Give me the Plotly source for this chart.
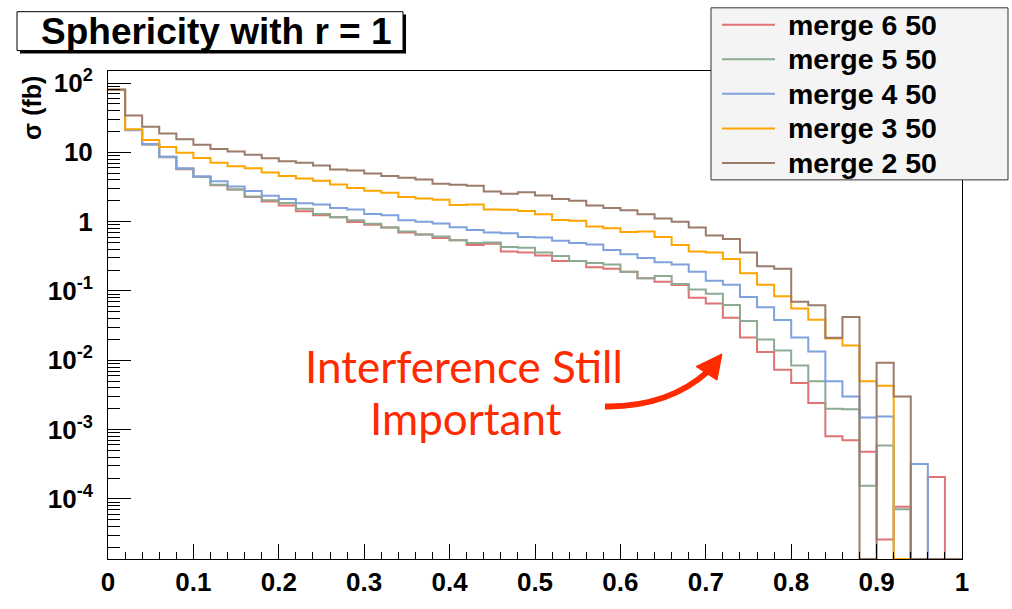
import plotly.graph_objects as go
import math

# ---------------- data ----------------
n_bins = 50
bin_width = 0.02

series_names = ["merge 6 50", "merge 5 50", "merge 4 50", "merge 3 50", "merge 2 50"]
series_colors = ["#e07474", "#8daa93", "#7fa2de", "#ffa500", "#9c7b6b"]

merge6 = [80, 21, 13, 8.5, 5.7, 4.4, 3.35, 2.9, 2.27, 1.95,
          1.71, 1.41, 1.24, 1.16, 0.99, 0.90, 0.82, 0.70, 0.65, 0.58,
          0.54, 0.46, 0.48, 0.37, 0.36, 0.325, 0.27, 0.27, 0.22, 0.21,
          0.19, 0.153, 0.136, 0.122, 0.080, 0.066, 0.041, 0.0214, 0.0132, 0.0073,
          0.0047, 0.00243, 8.0e-4, 7.0e-4, 4.8e-4, 2.6e-5, 7.7e-5, 0, 2.08e-4, 0]
merge5 = [80, 21, 13, 8.6, 5.8, 4.4, 3.4, 2.92, 2.31, 2.03,
          1.86, 1.53, 1.29, 1.16, 1.05, 0.935, 0.82, 0.72, 0.65, 0.61,
          0.54, 0.49, 0.50, 0.43, 0.42, 0.36, 0.32, 0.27, 0.254, 0.24,
          0.19, 0.153, 0.165, 0.126, 0.105, 0.091, 0.063, 0.037, 0.020, 0.0139,
          0.0084, 0.0050, 0.0020, 0.00196, 1.55e-4, 5.9e-4, 7.1e-5, 0, 0, 0]
merge4 = [80, 20.9, 13.2, 8.6, 5.9, 4.5, 3.83, 3.22, 2.77, 2.36,
          2.12, 1.84, 1.77, 1.57, 1.50, 1.29, 1.24, 1.05, 1.0, 0.944,
          0.83, 0.76, 0.70, 0.68, 0.60, 0.59, 0.53, 0.49, 0.47, 0.39,
          0.34, 0.30, 0.26, 0.24, 0.19, 0.14, 0.123, 0.082, 0.058, 0.038,
          0.0214, 0.0134, 0.0050, 0.0030, 0.0015, 0.00155, 0, 3.2e-4, 0, 0]
merge3 = [80, 21.6, 15.0, 11.9, 9.9, 8.3, 7.1, 6.3, 5.9, 5.1,
          4.55, 4.2, 3.88, 3.44, 3.05, 2.80, 2.62, 2.26, 2.16, 2.07,
          1.74, 1.77, 1.50, 1.48, 1.42, 1.28, 1.06, 1.03, 0.85, 0.80,
          0.71, 0.72, 0.60, 0.46, 0.37, 0.36, 0.29, 0.18, 0.123, 0.084,
          0.056, 0.0385, 0.0207, 0.0163, 0.0050, 0.0043, 0, 0, 0, 0]
merge2 = [80, 34, 23.4, 18.7, 15.4, 12.9, 11.2, 10.3, 9.2, 8.2,
          7.45, 7.1, 6.43, 5.65, 5.47, 4.97, 4.55, 4.31, 4.04, 3.52,
          3.40, 3.30, 2.73, 2.52, 2.65, 2.38, 2.12, 2.01, 1.71, 1.58,
          1.46, 1.28, 1.11, 1.0, 0.82, 0.63, 0.56, 0.36, 0.228, 0.21,
          0.070, 0.062, 0.0211, 0.042, 0, 0.0092, 0.0030, 0, 0, 0]
series_values = [merge6, merge5, merge4, merge3, merge2]

y_tick_vals = [1e-4, 1e-3, 1e-2, 1e-1, 1, 10, 100]
y_tick_text = ["10<sup>-4</sup>", "10<sup>-3</sup>", "10<sup>-2</sup>", "10<sup>-1</sup>", "1", "10", "10<sup>2</sup>"]
x_tick_vals = [0, 0.1, 0.2, 0.3, 0.4, 0.5, 0.6, 0.7, 0.8, 0.9, 1]
x_tick_text = ["0", "0.1", "0.2", "0.3", "0.4", "0.5", "0.6", "0.7", "0.8", "0.9", "1"]

title_text = "Sphericity with r = 1"
y_title = "σ (fb)"
note_lines = ["Interference Still", "Important"]

# ---------------- layout geometry ----------------
W, H = 1012, 609
L, R, T, B = 108, 962, 71, 573
y_lo, y_hi = math.log10(1.36e-5), math.log10(149)
floor_val = 10 ** y_lo

def pxx(x):
    return (x - L) / (R - L)

def pxy(y):
    return (B - y) / (B - T)

edges = [round(i * bin_width, 4) for i in range(n_bins + 1)]

fig = go.Figure()
for name, col, vals in zip(series_names, series_colors, series_values):
    yy = [v if v > 0 else floor_val for v in vals]
    fig.add_trace(go.Scatter(
        x=edges, y=yy + [yy[-1]], mode="lines", name=name,
        line=dict(color=col, width=2, shape="hv"), showlegend=False,
        hoverinfo="skip"))

minor_y = [k * 10 ** n for n in range(-5, 3) for k in range(2, 10)
           if y_lo <= math.log10(k * 10 ** n) <= y_hi]

axfont = dict(family="Liberation Sans", size=26, color="black", weight="bold")
fig.update_layout(
    width=W, height=H,
    margin=dict(l=L, r=W - R, t=T, b=H - B, pad=0),
    paper_bgcolor="white", plot_bgcolor="white",
    xaxis=dict(range=[0, 1], tickmode="array", tickvals=x_tick_vals, ticktext=x_tick_text,
               ticks="inside", ticklen=15, tickwidth=1, tickcolor="black",
               showline=True, linecolor="black", linewidth=1, mirror=True,
               showgrid=False, zeroline=False, tickfont=axfont,
               minor=dict(tickmode="linear", tick0=0, dtick=0.02, ticks="inside",
                          ticklen=7, tickwidth=1, tickcolor="black", showgrid=False)),
    yaxis=dict(type="log", range=[y_lo, y_hi], tickmode="array", tickvals=y_tick_vals,
               ticktext=y_tick_text, ticks="inside", ticklen=23, tickwidth=1,
               tickcolor="black", showline=True, linecolor="black", linewidth=1,
               mirror=True, showgrid=False, zeroline=False, tickfont=axfont,
               ticklabelstandoff=9,
               minor=dict(tickmode="array", tickvals=minor_y, ticks="inside",
                          ticklen=12, tickwidth=1, tickcolor="black", showgrid=False)),
)

shapes = []
annotations = []

# title box with shadow
shapes.append(dict(type="rect", xref="paper", yref="paper",
                   x0=pxx(20), x1=pxx(406), y0=pxy(53), y1=pxy(13),
                   fillcolor="black", line=dict(width=0), layer="above"))
shapes.append(dict(type="rect", xref="paper", yref="paper",
                   x0=pxx(17), x1=pxx(403), y0=pxy(50), y1=pxy(10),
                   fillcolor="white", line=dict(color="black", width=1), layer="above"))
annotations.append(dict(text=title_text, xref="paper", yref="paper", x=pxx(216), y=pxy(30),
                        xanchor="center", yanchor="middle", showarrow=False,
                        font=dict(family="Liberation Sans", size=37, color="black", weight="bold")))

# y title
annotations.append(dict(text=y_title, xref="paper", yref="paper", x=pxx(32), y=pxy(74),
                        xanchor="center", yanchor="top", textangle=-90, showarrow=False,
                        font=dict(family="Liberation Sans", size=25, color="black", weight="bold")))

# legend box
shapes.append(dict(type="rect", xref="paper", yref="paper",
                   x0=pxx(711), x1=pxx(1008), y0=pxy(183), y1=pxy(6),
                   fillcolor="#f4f4f4", line=dict(color="#333333", width=1), layer="above"))
for i, (name, col) in enumerate(zip(series_names, series_colors)):
    yc = 23.3 + 35.6 * i
    shapes.append(dict(type="line", xref="paper", yref="paper",
                       x0=pxx(722), x1=pxx(775), y0=pxy(yc), y1=pxy(yc),
                       line=dict(color=col, width=2), layer="above"))
    annotations.append(dict(text=name, xref="paper", yref="paper", x=pxx(786), y=pxy(yc),
                            xanchor="left", yanchor="middle", showarrow=False,
                            font=dict(family="Liberation Sans", size=28.5, color="black", weight="bold")))

# red note
red = "#ff2a00"
annotations.append(dict(text=note_lines[0], xref="paper", yref="paper", x=pxx(464), y=pxy(374),
                        xanchor="center", yanchor="middle", showarrow=False,
                        font=dict(family="Lato", size=44, color=red)))
annotations.append(dict(text=note_lines[1], xref="paper", yref="paper", x=pxx(466), y=pxy(428),
                        xanchor="center", yanchor="middle", showarrow=False,
                        font=dict(family="Lato", size=44, color=red)))

# curved arrow
p = lambda x, y: f"{pxx(x):.5f},{pxy(y):.5f}"
shapes.append(dict(type="path", xref="paper", yref="paper",
                   path=f"M{p(605,416)} Q{p(668,417)} {p(708,380)}",
                   line=dict(color=red, width=6), layer="above"))
shapes.append(dict(type="path", xref="paper", yref="paper",
                   path=f"M{p(722,362)} L{p(696,375)} L{p(717,389)} Z",
                   fillcolor=red, line=dict(color=red, width=1), layer="above"))

fig.update_layout(shapes=shapes, annotations=annotations)
fig.write_html("out.html")
